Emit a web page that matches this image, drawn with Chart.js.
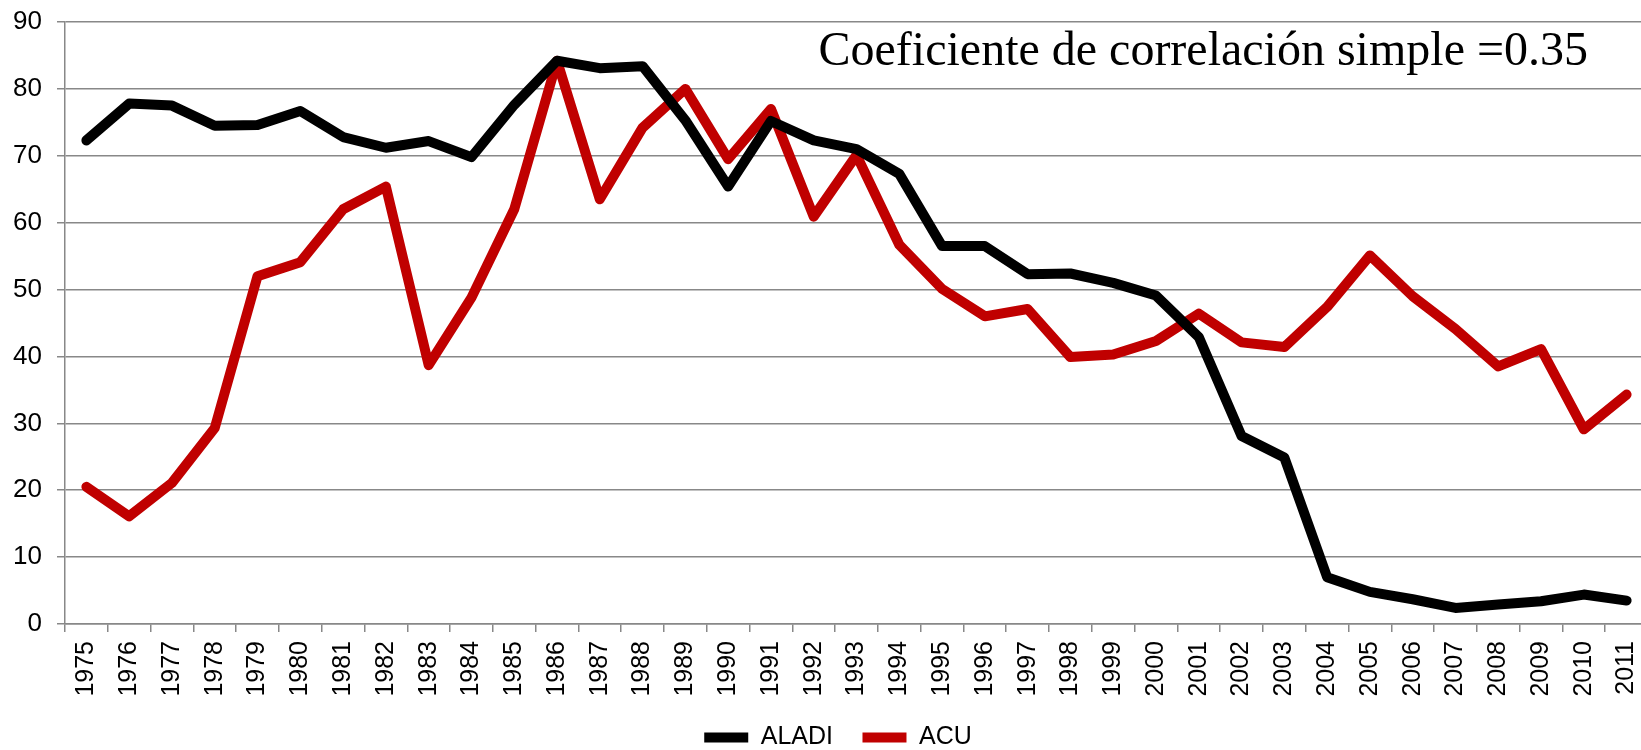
<!DOCTYPE html>
<html lang="es">
<head>
    <meta charset="UTF-8">
    <title>ALADI vs ACU</title>
    <script src="https://cdn.jsdelivr.net/npm/chart.js"></script>
    <style>
        html, body { margin: 0; padding: 0; overflow: hidden; background: #fff; }
        /* el área del gráfico sobresale un poco a la derecha y abajo, como en el original */
        .chart-container { width: 1649px; height: 760px; }
    </style>
</head>
<body>

<div class="chart-container">
    <canvas id="grafico"></canvas>
</div>

<script>
// Años
const years = ["1975","1976","1977","1978","1979","1980","1981","1982","1983","1984",
               "1985","1986","1987","1988","1989","1990","1991","1992","1993","1994",
               "1995","1996","1997","1998","1999","2000","2001","2002","2003","2004",
               "2005","2006","2007","2008","2009","2010","2011"];

// Series
const aladi = [72.3, 77.8, 77.5, 74.5, 74.6, 76.7, 72.8, 71.2, 72.2, 69.8,
               77.6, 84.2, 83.1, 83.4, 75.3, 65.4, 75.2, 72.3, 71.0, 67.3,
               56.5, 56.5, 52.3, 52.4, 51.0, 49.1, 42.9, 28.1, 24.9, 7.0,
               4.8, 3.7, 2.4, 2.9, 3.4, 4.4, 3.5];
const acu   = [20.5, 16.1, 21.1, 29.3, 52.0, 54.1, 62.0, 65.4, 38.7, 48.8,
               62.0, 84.2, 63.5, 74.2, 80.0, 69.5, 77.0, 60.9, 70.1, 56.7,
               50.1, 46.0, 47.1, 39.9, 40.3, 42.3, 46.4, 42.1, 41.4, 47.4,
               55.1, 49.0, 44.1, 38.5, 41.1, 29.1, 34.3];

const yTicks = [0, 10, 20, 30, 40, 50, 60, 70, 80, 90];
const anotacion = "Coeficiente de correlación simple =0.35";

// Texto del coeficiente dentro del área del gráfico
const textoCoef = {
    id: 'textoCoef',
    afterDraw(chart) {
        const ctx = chart.ctx;
        ctx.save();
        ctx.font = '48px "Liberation Serif", "Times New Roman", serif';
        ctx.fillStyle = '#000';
        ctx.textAlign = 'right';
        ctx.textBaseline = 'alphabetic';
        ctx.fillText(anotacion, 1588, 65);
        ctx.restore();
    }
};

// La leyenda del original está un poco a la derecha del centro
const moverLeyenda = {
    id: 'moverLeyenda',
    afterLayout(chart) {
        chart.legend.left += 14;
        chart.legend.right += 14;
    }
};

const gris = '#888888';
const fuente = '"Liberation Sans", Arial, sans-serif';

new Chart(document.getElementById('grafico'), {
    type: 'line',
    data: {
        labels: years,
        datasets: [
            {
                label: 'ALADI',
                data: aladi,
                borderColor: '#000000',
                backgroundColor: '#000000',
                borderWidth: 10,
                borderCapStyle: 'round',
                borderJoinStyle: 'round',
                pointRadius: 0,
                tension: 0
            },
            {
                label: 'ACU',
                data: acu,
                borderColor: '#C00000',
                backgroundColor: '#C00000',
                borderWidth: 10,
                borderCapStyle: 'round',
                borderJoinStyle: 'round',
                pointRadius: 0,
                tension: 0
            }
        ]
    },
    plugins: [textoCoef, moverLeyenda],
    options: {
        responsive: true,
        maintainAspectRatio: false,
        animation: false,
        layout: { padding: { top: 22, right: 1, bottom: 0, left: 0 } },
        plugins: {
            tooltip: { enabled: false },
            legend: {
                position: 'bottom',
                labels: {
                    usePointStyle: true,
                    pointStyle: 'line',
                    pointStyleWidth: 44,
                    padding: 29.5,
                    color: '#000',
                    font: { family: fuente, size: 25 }
                }
            }
        },
        scales: {
            x: {
                offset: true,
                grid: {
                    offset: true,
                    drawOnChartArea: false,
                    drawTicks: true,
                    tickLength: 8,
                    color: gris,
                    lineWidth: 1.5
                },
                border: { color: gris, width: 1.5 },
                ticks: {
                    autoSkip: false,
                    maxRotation: 90,
                    minRotation: 90,
                    padding: 9,
                    color: '#000',
                    font: { family: fuente, size: 25 }
                },
                afterFit(scale) {
                    scale.height = 71.5;
                    scale.paddingLeft = 0;
                    scale.paddingRight = 0;
                }
            },
            y: {
                min: 0,
                max: 90,
                afterBuildTicks(scale) { scale.ticks = yTicks.map(v => ({ value: v })); },
                grid: {
                    color: gris,
                    lineWidth: 1.5,
                    drawTicks: true,
                    tickLength: 8
                },
                border: { color: gris, width: 1.5 },
                ticks: {
                    padding: 15,
                    color: '#000',
                    font: { family: fuente, size: 26 }
                },
                afterFit(scale) {
                    scale.width = 65;
                    scale.paddingTop = 0;
                    scale.paddingBottom = 0;
                }
            }
        }
    }
});
</script>

</body>
</html>
